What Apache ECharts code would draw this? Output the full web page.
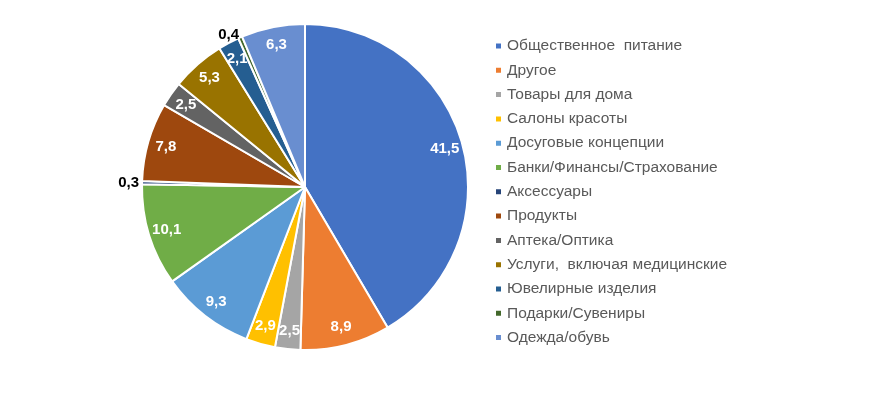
<!DOCTYPE html>
<html><head><meta charset="utf-8">
<script src="https://cdn.jsdelivr.net/npm/echarts@6/dist/echarts.min.js"></script>
<style>html,body{margin:0;padding:0;background:#fff}#c{width:887px;height:395px}</style>
</head><body><div id="c"></div>
<script>
const categories = ["Общественное  питание","Другое","Товары для дома","Салоны красоты","Досуговые концепции","Банки/Финансы/Страхование","Аксессуары","Продукты","Аптека/Оптика","Услуги,  включая медицинские","Ювелирные изделия","Подарки/Сувениры","Одежда/обувь"];
const values = [41.5, 8.9, 2.5, 2.9, 9.3, 10.1, 0.3, 7.8, 2.5, 5.3, 2.1, 0.4, 6.3];
const colors = ["#4472C4","#ED7D31","#A5A5A5","#FFC000","#5B9BD5","#70AD47","#264478","#9E480E","#636363","#997300","#255E91","#43682B","#698ED0"];

const fmt = v => String(v).replace('.', ',');
const pieData = categories.map((n,i)=>({name:n, value:values[i], itemStyle:{color:colors[i]}}));
const labelData = categories.map((n,i)=>{
  const d = {name:n, value:values[i]};
  if (values[i] < 1) {
    d.label = {position:'outside', color:'#000', distanceToLabelLine:0};
    d.labelLine = {show:false, length:3, length2:0};
  }
  return d;
});
const R = 163;
const chart = echarts.init(document.getElementById('c'));
chart.setOption({
  animation:false,
  legend:{
    orient:'vertical', left:494, top:38, padding:0,
    itemWidth:7, itemHeight:7, itemGap:8.3, icon:'rect',
    textStyle:{fontFamily:'Liberation Sans', fontSize:15.5, color:'#595959', padding:[0,0,0,0]},
    data:categories
  },
  series:[
    {
      type:'pie', center:[305,187], radius:[0,R], startAngle:90, clockwise:true,
      data:pieData, label:{show:false}, labelLine:{show:false},
      itemStyle:{borderColor:'#fff', borderWidth:2}, silent:true
    },
    {
      type:'pie', center:[305,187], radius:[R*0.74,R], startAngle:90, clockwise:true,
      data:labelData, silent:true, legendHoverLink:false,
      itemStyle:{color:'rgba(0,0,0,0)', borderWidth:0},
      label:{show:true, position:'inside', formatter:p=>fmt(p.value), color:'#fff',
             fontFamily:'Liberation Sans', fontSize:15, fontWeight:'bold'},
      labelLine:{show:false}
    }
  ]
});
</script></body></html>
